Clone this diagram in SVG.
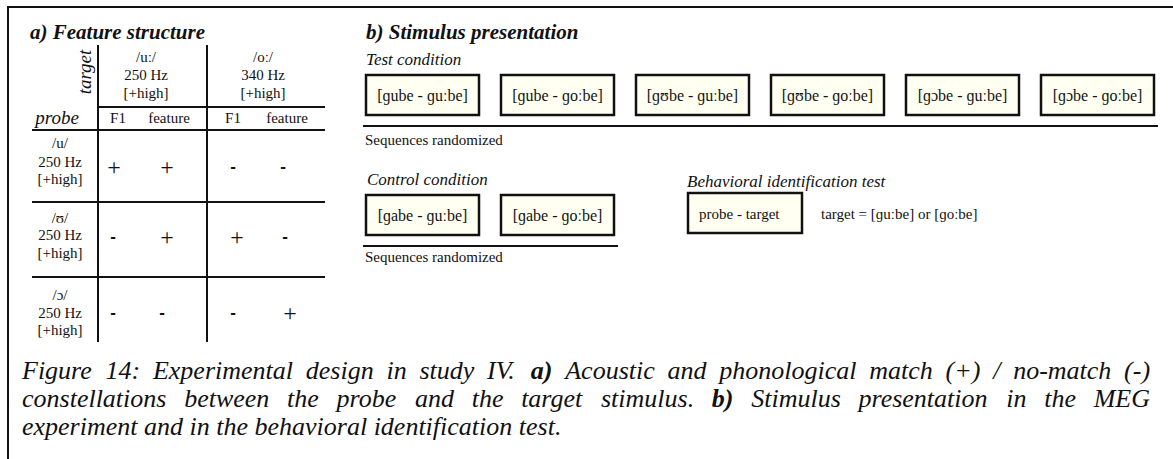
<svg xmlns="http://www.w3.org/2000/svg" width="1173" height="459" viewBox="0 0 1173 459">
<style>
text{font-family:"Liberation Serif","Times New Roman",serif;fill:#111}
.h{font-size:21px;font-weight:bold;font-style:italic}
.it{font-size:17px;font-style:italic}
.lab{font-size:19px;font-style:italic}
.t{font-size:15px}
.c{text-anchor:middle}
.bx{font-size:16px;text-anchor:middle}
.plus{font-size:24px;text-anchor:middle}
.dash{font-family:"Liberation Sans",Arial,sans-serif;font-size:17px;font-weight:bold;text-anchor:middle}
.cap{font-size:26px;font-style:italic}
.b{font-weight:bold}
.rule{stroke:#111;stroke-width:2;fill:none}
.box{fill:#fffff2;stroke:#111;stroke-width:2.5}
</style>
<g id="frame">
<line class="rule" x1="8" y1="7" x2="1173" y2="7"/>
<line class="rule" x1="8" y1="6" x2="8" y2="459"/>
</g>
<g id="feature-table">
<text class="h" x="30" y="39">a) Feature structure</text>
<line class="rule" x1="98" y1="45" x2="98" y2="342"/>
<line class="rule" x1="207" y1="45" x2="207" y2="342"/>
<line class="rule" x1="98" y1="107" x2="325" y2="107"/>
<line class="rule" x1="32" y1="130" x2="325" y2="130"/>
<line class="rule" x1="32" y1="202" x2="325" y2="202"/>
<line class="rule" x1="32" y1="277" x2="325" y2="277"/>
<text class="lab c" transform="translate(91,72) rotate(-90)">target</text>
<text class="t c" x="146" y="62">/uː/</text>
<text class="t c" x="146" y="80">250 Hz</text>
<text class="t c" x="146" y="98">[+high]</text>
<text class="t c" x="263" y="62">/oː/</text>
<text class="t c" x="263" y="80">340 Hz</text>
<text class="t c" x="263" y="98">[+high]</text>
<text class="lab c" x="57" y="124">probe</text>
<text class="t c" x="118" y="123">F1</text>
<text class="t c" x="169" y="123">feature</text>
<text class="t c" x="233" y="123">F1</text>
<text class="t c" x="287" y="123">feature</text>
<text class="t c" x="60" y="148">/u/</text>
<text class="t c" x="60" y="167">250 Hz</text>
<text class="t c" x="60" y="184">[+high]</text>
<text class="plus" x="114" y="175">+</text>
<text class="plus" x="167" y="175">+</text>
<text class="dash" x="233" y="172">-</text>
<text class="dash" x="283" y="172">-</text>
<text class="t c" x="60" y="223">/ʊ/</text>
<text class="t c" x="60" y="240">250 Hz</text>
<text class="t c" x="60" y="258">[+high]</text>
<text class="dash" x="113" y="242">-</text>
<text class="plus" x="167" y="245">+</text>
<text class="plus" x="237" y="245">+</text>
<text class="dash" x="285" y="242">-</text>
<text class="t c" x="60" y="300">/ɔ/</text>
<text class="t c" x="60" y="318">250 Hz</text>
<text class="t c" x="60" y="335">[+high]</text>
<text class="dash" x="113" y="318">-</text>
<text class="dash" x="162" y="318">-</text>
<text class="dash" x="233" y="318">-</text>
<text class="plus" x="290" y="321">+</text>
</g>
<g id="stimulus-title">
<text class="h" x="366" y="39">b) Stimulus presentation</text>
<text class="it" x="366" y="65">Test condition</text>
</g>
<g id="test1"><rect class="box" x="366" y="75" width="113" height="40"/><text class="bx" x="422.5" y="101">[ɡube - ɡuːbe]</text></g>
<g id="test2"><rect class="box" x="501" y="75" width="113" height="40"/><text class="bx" x="557.5" y="101">[ɡube - ɡoːbe]</text></g>
<g id="test3"><rect class="box" x="636" y="75" width="113" height="40"/><text class="bx" x="692.5" y="101">[ɡʊbe - ɡuːbe]</text></g>
<g id="test4"><rect class="box" x="771" y="75" width="113" height="40"/><text class="bx" x="827.5" y="101">[ɡʊbe - ɡoːbe]</text></g>
<g id="test5"><rect class="box" x="906" y="75" width="113" height="40"/><text class="bx" x="962.5" y="101">[ɡɔbe - ɡuːbe]</text></g>
<g id="test6"><rect class="box" x="1041" y="75" width="113" height="40"/><text class="bx" x="1097.5" y="101">[ɡɔbe - ɡoːbe]</text></g>
<g id="control-title"><text class="it" x="367" y="185">Control condition</text></g>
<g id="control1"><rect class="box" x="366" y="195" width="113" height="40"/><text class="bx" x="422.5" y="221">[ɡabe - ɡuːbe]</text></g>
<g id="control2"><rect class="box" x="501" y="195" width="113" height="40"/><text class="bx" x="557.5" y="221">[ɡabe - ɡoːbe]</text></g>
<g id="behavioral-title"><text class="it" x="687" y="187">Behavioral identification test</text></g>
<g id="probe-target"><rect class="box" x="688" y="193" width="114" height="40"/><text class="t" x="699" y="219">probe - target</text></g>
<g id="target-note"><text class="t" x="821" y="219">target = [ɡuːbe] or [ɡoːbe]</text></g>
<g id="connectors">
<line class="rule" x1="363" y1="126" x2="1158" y2="126"/>
<line class="rule" x1="363" y1="246" x2="618" y2="246"/>
</g>
<g id="notes">
<text class="t" x="365" y="145">Sequences randomized</text>
<text class="t" x="365" y="262">Sequences randomized</text>
</g>
<g id="caption">
<text class="cap" y="379"><tspan x="22">Figure</tspan><tspan x="105.52">14:</tspan><tspan x="152.93">Experimental</tspan><tspan x="305.77">design</tspan><tspan x="386.41">in</tspan><tspan x="419.39">study</tspan><tspan x="487.03">IV.</tspan><tspan x="530.82" class="b">a)</tspan><tspan x="565.23">Acoustic</tspan><tspan x="667.52">and</tspan><tspan x="719.27">phonological</tspan><tspan x="869.25">match</tspan><tspan x="945.54">(+)</tspan><tspan x="993.16">/</tspan><tspan x="1013.14">no-match</tspan><tspan x="1124.09">(-)</tspan></text>
<text class="cap" y="407"><tspan x="22">constellations</tspan><tspan x="184.18">between</tspan><tspan x="287.09">the</tspan><tspan x="336.58">probe</tspan><tspan x="414.95">and</tspan><tspan x="471.67">the</tspan><tspan x="521.15">target</tspan><tspan x="600.98">stimulus.</tspan><tspan x="711.87" class="b">b)</tspan><tspan x="751.25">Stimulus</tspan><tspan x="858.53">presentation</tspan><tspan x="1006.25">in</tspan><tspan x="1044.19">the</tspan><tspan x="1093.68">MEG</tspan></text>
<text class="cap" x="22" y="435">experiment and in the behavioral identification test.</text>
</g>
</svg>
